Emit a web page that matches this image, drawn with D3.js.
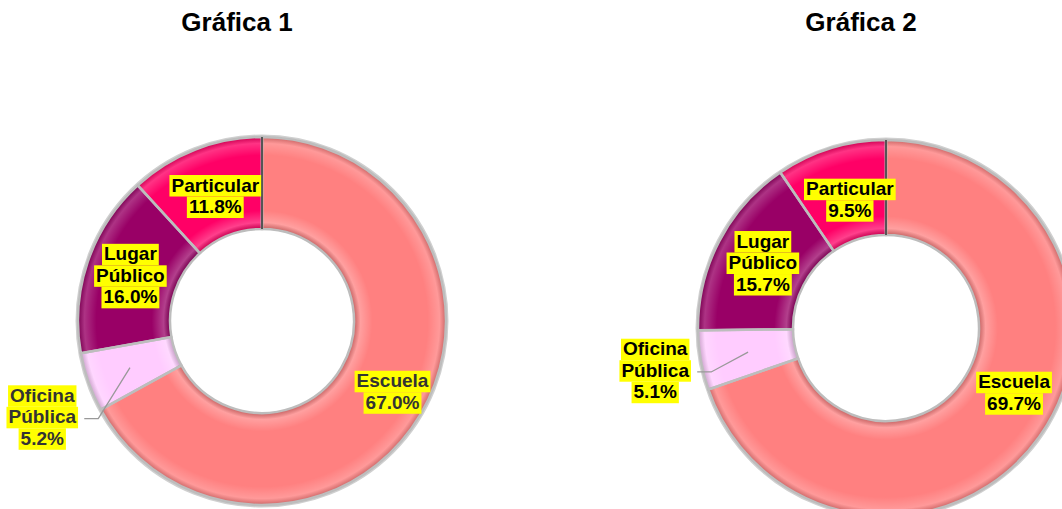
<!DOCTYPE html>
<html>
<head>
<meta charset="utf-8">
<script src="https://cdn.jsdelivr.net/npm/d3@7"></script>
<style>
  body { margin: 0; background: #fff; }
  svg { display: block; font-family: "Liberation Sans", Arial, sans-serif; }
</style>
</head>
<body>
<div id="chart"></div>
<script>
// data
var categories = ["Escuela", "Oficina Pública", "Lugar Público", "Particular"];
var values1 = [67.0, 5.2, 16.0, 11.8];
var values2 = [69.7, 5.1, 15.7, 9.5];
var titles = ["Gráfica 1", "Gráfica 2"];
var colors = ["#ff8080", "#ffccff", "#990066", "#ff0066"];

var width = 1062, height = 509;

var svg = d3.select("#chart").append("svg")
    .attr("width", width)
    .attr("height", height);

var defs = svg.append("defs");

// layout of the two donuts (label nudges relative to the slice centroid)
var charts = [
  { values: values1, title: titles[0], cx: 262, cy: 321, rOut: 184, rIn: 92,
    nudge: [[10, 0], [-17, 25], [1, 0], [4, 6]],
    textColor: ["#333", "#333", "#000", "#000"] },
  { values: values2, title: titles[1], cx: 886, cy: 328, rOut: 188, rIn: 93,
    nudge: [[14, -16], [-19, 6], [1, 0], [5, 6]],
    textColor: ["#000", "#000", "#000", "#000"] }
];

var pie = d3.pie().sort(null).value(function(d) { return d; });

charts.forEach(function(c, ci) {
  var g = svg.append("g").attr("transform", "translate(" + c.cx + "," + c.cy + ")");

  // bevel-ish shading across the ring
  var fr = c.rIn / c.rOut;
  var grad = defs.append("radialGradient")
      .attr("id", "bevel" + ci)
      .attr("gradientUnits", "userSpaceOnUse")
      .attr("cx", 0).attr("cy", 0).attr("r", c.rOut);
  [[fr, "#000", 0.22], [fr + 0.035, "#fff", 0.25], [fr + 0.1, "#fff", 0], [0.9, "#fff", 0],
   [0.965, "#fff", 0.2], [1, "#000", 0.2]].forEach(function(s) {
    grad.append("stop").attr("offset", s[0]).attr("stop-color", s[1]).attr("stop-opacity", s[2]);
  });

  var arc = d3.arc().innerRadius(c.rIn).outerRadius(c.rOut);
  var arcs = pie(c.values);

  // outer halo
  g.append("circle").attr("r", c.rOut + 1.5)
    .attr("fill", "none").attr("stroke", "#d0d0d0").attr("stroke-width", 2);

  g.selectAll("path.slice")
    .data(arcs)
    .enter()
    .append("path")
      .attr("class", "slice")
      .attr("d", arc)
      .attr("fill", function(d, i) { return colors[i]; });

  g.selectAll("path.shade")
    .data(arcs)
    .enter()
    .append("path")
      .attr("class", "shade")
      .attr("d", arc)
      .attr("fill", "url(#bevel" + ci + ")")
      .attr("stroke", "#bdbdbd")
      .attr("stroke-width", 2.5);

  // darker seam at the 12 o'clock start
  g.append("line")
    .attr("x1", 0).attr("y1", -c.rIn)
    .attr("x2", 0).attr("y2", -c.rOut)
    .attr("stroke", "#555").attr("stroke-width", 2);

  // title
  svg.append("text")
    .attr("x", c.cx - 25)
    .attr("y", 31)
    .attr("text-anchor", "middle")
    .style("font-size", "26px")
    .style("font-weight", "bold")
    .text(c.title);

  var labelArc = d3.arc().innerRadius(140).outerRadius(140);
  var farArc = d3.arc().innerRadius(215).outerRadius(215);
  var lineH = 21.5;

  arcs.forEach(function(d, i) {
    var p = (i === 1 ? farArc : labelArc).centroid(d);
    var x = p[0] + c.nudge[i][0], y = p[1] + c.nudge[i][1];
    var words = categories[i] === "Lugar Público" ? ["Lugar", "Público"]
              : categories[i] === "Oficina Pública" ? ["Oficina", "Pública"]
              : [categories[i]];
    var lines = words.concat([d3.format(".1f")(d.data) + "%"]);

    if (i === 1) {
      var s = labelArc.centroid(d);
      g.append("polyline")
        .attr("points", [s, [x + 56, y + 1], [x + 42, y + 1]].map(function(q) { return q.join(","); }).join(" "))
        .attr("fill", "none")
        .attr("stroke", "#999")
        .attr("stroke-width", 1.3);
    }

    var lg = g.append("g").attr("transform", "translate(" + x + "," + y + ")");
    var top = -lines.length * lineH / 2;
    lines.forEach(function(t, k) {
      var bg = lg.append("rect");
      var txt = lg.append("text")
        .attr("x", 0)
        .attr("y", top + k * lineH + 16.5)
        .attr("text-anchor", "middle")
        .style("font-size", "19px")
        .style("font-weight", "bold")
        .attr("fill", c.textColor[i])
        .text(t);
      var w = txt.node().getComputedTextLength();
      bg.attr("x", -w / 2 - 2).attr("y", top + k * lineH)
        .attr("width", w + 4).attr("height", lineH)
        .attr("fill", "#ffff00");
    });
  });
});
</script>
</body>
</html>
